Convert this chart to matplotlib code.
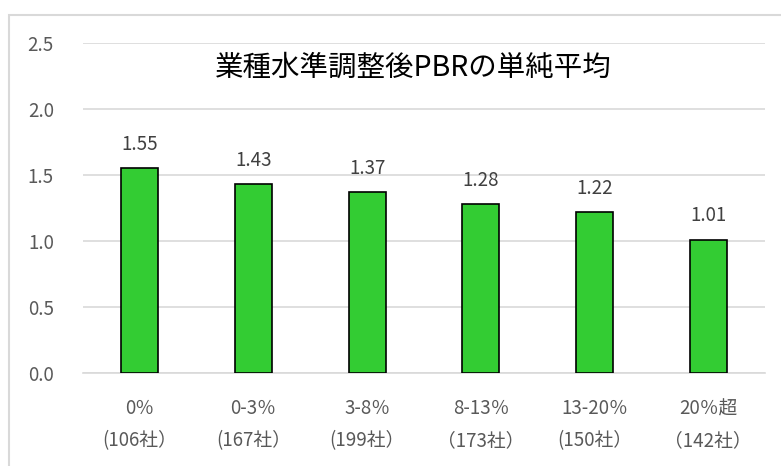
import matplotlib.pyplot as plt
from matplotlib.patches import Rectangle

plt.rcParams['font.family'] = ['Noto Sans CJK JP', 'DejaVu Sans']

labels = ['0％\n(106社）', '0-3％\n(167社）', '3-8％\n(199社）',
          '8-13％\n（173社）', '13-20％\n(150社）', '20％超\n（142社）']
values = [1.55, 1.43, 1.37, 1.28, 1.22, 1.01]
title = '業種水準調整後PBRの単純平均'

fig = plt.figure(figsize=(7.81, 4.66), dpi=100)
ax = fig.add_axes([83 / 781, 1 - 373 / 466, 682 / 781, 330 / 466])

# chart outer border (cropped on right and bottom in the original)
fig.patches.append(Rectangle((8.5 / 781, -0.1), 1.2, 1.1 - 15.5 / 466, transform=fig.transFigure,
                             fill=False, edgecolor='#D9D9D9', linewidth=1.5))

x = range(len(values))
ax.bar(x, values, width=0.325, color='#33CC33', edgecolor='black', linewidth=1.2, zorder=3)
for i, v in zip(x, values):
    ax.text(i, v + 0.18, f'{v:.2f}', ha='center', va='center', fontsize=13.5, color='#404040')

ax.set_xlim(-0.5, len(values) - 0.5)
ax.set_ylim(0, 2.5)
ax.set_yticks([0, 0.5, 1.0, 1.5, 2.0, 2.5])
ax.set_yticklabels(['0.0', '0.5', '1.0', '1.5', '2.0', '2.5'])
ax.set_xticks(list(x))
ax.set_xticklabels(labels, linespacing=1.7)
ax.tick_params(axis='both', length=0, labelsize=13.5, colors='#595959')
ax.tick_params(axis='x', pad=18)
ax.tick_params(axis='y', pad=21)
ax.grid(axis='y', color='#D9D9D9', linewidth=1.2, zorder=0)
for s in ['top', 'right', 'left']:
    ax.spines[s].set_visible(False)
ax.spines['bottom'].set_color('#D9D9D9')
ax.spines['bottom'].set_linewidth(1.2)

fig.text(413 / 781, 1 - 68 / 466, title, ha='center', va='center',
         fontsize=20.5, color='black')

fig.savefig('out.png', dpi=100)
